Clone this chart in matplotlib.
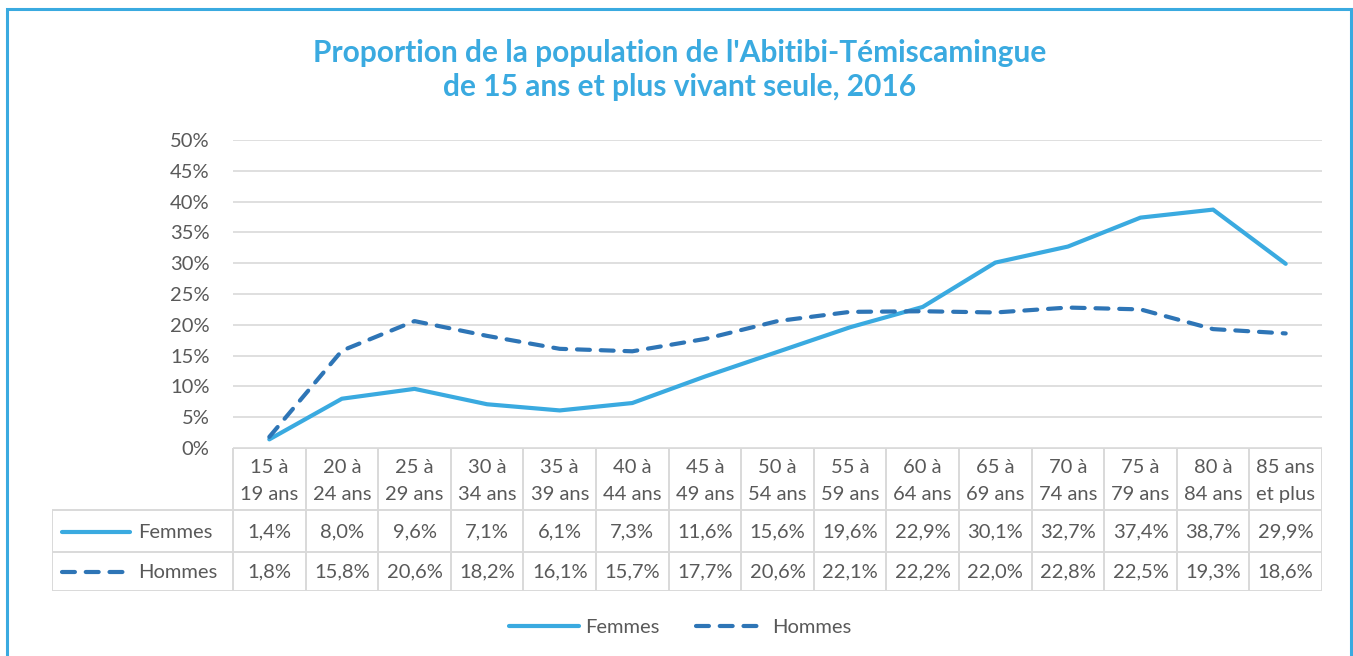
import matplotlib.pyplot as plt
from matplotlib.lines import Line2D
from matplotlib.patches import Rectangle

plt.rcParams['font.family'] = ['Lato', 'DejaVu Sans']

# data
groupes = ['15 à\n19 ans', '20 à\n24 ans', '25 à\n29 ans', '30 à\n34 ans', '35 à\n39 ans',
           '40 à\n44 ans', '45 à\n49 ans', '50 à\n54 ans', '55 à\n59 ans', '60 à\n64 ans',
           '65 à\n69 ans', '70 à\n74 ans', '75 à\n79 ans', '80 à\n84 ans', '85 ans\net plus']
femmes = [1.4, 8.0, 9.6, 7.1, 6.1, 7.3, 11.6, 15.6, 19.6, 22.9, 30.1, 32.7, 37.4, 38.7, 29.9]
hommes = [1.8, 15.8, 20.6, 18.2, 16.1, 15.7, 17.7, 20.6, 22.1, 22.2, 22.0, 22.8, 22.5, 19.3, 18.6]
yticks = [0, 5, 10, 15, 20, 25, 30, 35, 40, 45, 50]

titre = "Proportion de la population de l'Abitibi-Témiscamingue\nde 15 ans et plus vivant seule, 2016"

C_F = '#3AAAE0'
C_H = '#2E75B6'
GRIS = '#595959'
GRILLE = '#D9D9D9'
FS = 14.5
TIRETS = (0, (3.1, 2.6))
W, H = 1353, 656

fig = plt.figure(figsize=(W / 100, H / 100), dpi=100)

# frame around the chart
fig.add_artist(Rectangle((7 / W, -0.05), (1351 - 7) / W, (656 - 9) / H + 0.05,
                         transform=fig.transFigure, fill=False, edgecolor=C_F, lw=2.2))

fig.text(680 / W, 1 - 70 / H, titre, ha='center', va='center', color=C_F,
         fontsize=21.5, fontweight='bold', linespacing=1.3)

# line chart
x0, x1, ytop, ybot = 233, 1322, 140, 448
ax = fig.add_axes([x0 / W, 1 - ybot / H, (x1 - x0) / W, (ybot - ytop) / H])
xs = list(range(len(groupes)))
ax.plot(xs, femmes, color=C_F, lw=3, solid_capstyle='round')
ax.plot(xs, hommes, color=C_H, lw=3, ls=TIRETS, dash_capstyle='round')
ax.set_xlim(-0.5, len(groupes) - 0.5)
ax.set_ylim(0, 50)
ax.set_yticks(yticks)
ax.set_yticklabels([f'{v}%' for v in yticks])
ax.set_xticks([])
ax.tick_params(axis='y', length=0, pad=17, labelsize=FS, labelcolor=GRIS)
ax.grid(axis='y', color=GRILLE, lw=1.2)
ax.set_axisbelow(True)
for s in ['top', 'left', 'right', 'bottom']:
    ax.spines[s].set_visible(False)

# data table under the chart
t0 = 52
tab = fig.add_axes([t0 / W, 1 - 591 / H, (x1 - t0) / W, (591 - ybot) / H])
col = (x1 - x0) / len(groupes)
xl = -0.5 - (x0 - t0) / col
tab.set_xlim(xl, len(groupes) - 0.5)
tab.set_ylim(591, ybot)
tab.axis('off')
kw = dict(color=GRILLE, lw=1.4, solid_capstyle='butt')
for b in [ybot, 510, 552, 591]:
    tab.plot([-0.5 if b == ybot else xl, len(groupes) - 0.5], [b, b], **kw)
for i in range(len(groupes) + 1):
    tab.plot([i - 0.5, i - 0.5], [ybot, 591], **kw)
tab.plot([xl, xl], [510, 591], **kw)
for i, g in enumerate(groupes):
    tab.text(i, 481, g, ha='center', va='center', fontsize=FS, color=GRIS, linespacing=1.68)
    tab.text(i, 532, f'{femmes[i]:.1f}%'.replace('.', ','), ha='center', va='center',
             fontsize=FS, color=GRIS)
    tab.text(i, 572, f'{hommes[i]:.1f}%'.replace('.', ','), ha='center', va='center',
             fontsize=FS, color=GRIS)
u = lambda px: xl + (px - t0) / col
tab.plot([u(62), u(130)], [532, 532], color=C_F, lw=3, solid_capstyle='round')
tab.plot([u(62), u(126)], [572, 572], color=C_H, lw=3, ls=TIRETS, dash_capstyle='round')
tab.text(u(138), 532, 'Femmes', ha='left', va='center', fontsize=FS, color=GRIS)
tab.text(u(138), 572, 'Hommes', ha='left', va='center', fontsize=FS, color=GRIS)

# legend at the bottom
handles = [Line2D([], [], color=C_F, lw=3, solid_capstyle='round'),
           Line2D([], [], color=C_H, lw=3, ls=TIRETS, dash_capstyle='round')]
fig.legend(handles, ['Femmes', 'Hommes'], loc='center', bbox_to_anchor=(680 / W, 1 - 627 / H),
           ncol=2, frameon=False, fontsize=FS, labelcolor=GRIS, handlelength=3.5,
           handletextpad=0.3, columnspacing=1.8)

fig.savefig('out.png', dpi=100)
